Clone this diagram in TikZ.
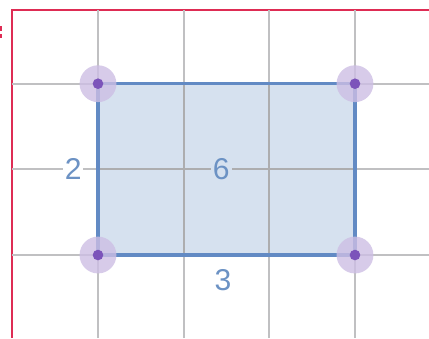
\documentclass[tikz,border=0pt]{standalone}
\usepackage{fontspec}
\setmainfont{Liberation Sans}
\definecolor{gridgray}{RGB}{192,192,194}
\definecolor{areablue}{RGB}{214,225,239}
\definecolor{edgeblue}{RGB}{98,138,196}
\definecolor{labelblue}{RGB}{108,146,196}
\definecolor{dotpurple}{RGB}{124,84,186}
\definecolor{halopurple}{RGB}{205,190,228}
\definecolor{framered}{RGB}{222,44,84}
\begin{document}
\begin{tikzpicture}[every node/.style={font=\fontsize{10}{12}\selectfont, text=labelblue, inner sep=0.6pt}]

\useasboundingbox (-1.144,-0.969) rectangle (3.864,2.977);

% frame
\draw[framered, line width=0.7pt] (-1.004,-0.969) -- (-1.004,2.86) -- (3.864,2.86);
\fill[framered] (-1.144,2.62) rectangle (-1.122,2.675);
\fill[framered] (-1.144,2.53) rectangle (-1.122,2.585);

% grid
\foreach \x in {0,1,2,3}{
	\draw[gridgray, line width=0.6pt] (\x,-0.969) -- (\x,2.86);
}
\foreach \y in {0,1,2}{
	\draw[gridgray, line width=0.6pt] (-1.004,\y) -- (3.864,\y);
}

\coordinate(a) at(0,0);
\coordinate(b) at(3,0);
\coordinate(c) at(3,2);
\coordinate(d) at(0,2);

\fill[areablue] (a) -- (b) -- (c) -- (d) -- cycle;
\draw[gridgray!90!black, line width=0.6pt] (1,0) -- (1,2) (2,0) -- (2,2) (0,1) -- (3,1);
\draw[edgeblue, line width=1.1pt] (a) -- (b) -- (c) -- (d) -- cycle;

\foreach \p in {a,b,c,d}{
	\fill[halopurple, opacity=0.8] (\p) circle (0.215);
	\fill[dotpurple] (\p) circle (0.062);
}

\node(w) [fill=white] at(-0.29,1) {2};
\node(h) [fill=areablue] at(1.44,1) {6};
\node(l) at(1.46,-0.29) {3};

\end{tikzpicture}
\end{document}
